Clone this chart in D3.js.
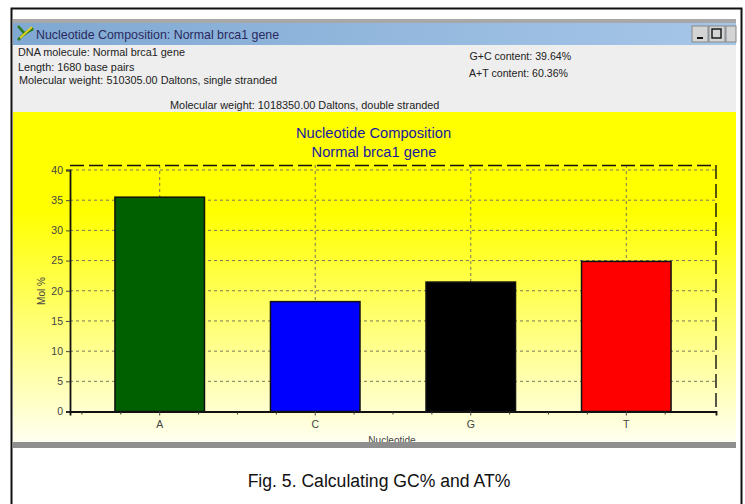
<!DOCTYPE html>
<html><head><meta charset="utf-8">
<script src="https://cdn.jsdelivr.net/npm/d3@7/dist/d3.min.js"></script>
<style>html,body{margin:0;padding:0;background:#fff}svg{display:block}</style>
</head><body><svg id="c" width="745" height="504"></svg>
<script>
const categories = ["A","C","G","T"];
const molPercent = [35.5, 18.2, 21.44, 24.86];
const barColors = ["#006000","#0000ff","#000000","#ff0000"];
const yTicks = [0,5,10,15,20,25,30,35,40];
const chartTitle = ["Nucleotide Composition","Normal brca1 gene"];
const windowTitle = "Nucleotide Composition: Normal brca1 gene";
const infoLeft = ["DNA molecule: Normal brca1 gene","Length: 1680 base pairs","Molecular weight: 510305.00 Daltons, single stranded"];
const infoRight = ["G+C content: 39.64%","A+T content: 60.36%"];
const infoBottom = "Molecular weight: 1018350.00 Daltons, double stranded";
const caption = "Fig. 5. Calculating GC% and AT%";

const svg = d3.select("#c");
const sans = "'Liberation Sans',Arial,sans-serif";
const defs = svg.append("defs");
const g1 = defs.append("linearGradient").attr("id","bg").attr("x1",0).attr("x2",0).attr("y1",0).attr("y2",1);
g1.append("stop").attr("offset",0).attr("stop-color","#ffff00");
g1.append("stop").attr("offset",0.3).attr("stop-color","#ffff00");
g1.append("stop").attr("offset",1).attr("stop-color","#fffff0");
const g2 = defs.append("linearGradient").attr("id","tb");
g2.append("stop").attr("offset",0).attr("stop-color","#7fa8d2");
g2.append("stop").attr("offset",1).attr("stop-color","#a6c6e8");

// frame and window
svg.append("rect").attr("x",11.5).attr("y",8.5).attr("width",730).attr("height",500).attr("fill","#fff").attr("stroke","#111").attr("stroke-width",2);
svg.append("rect").attr("x",13).attr("y",19).attr("width",723).attr("height",4).attr("fill","#a8a8a8");
svg.append("rect").attr("x",13).attr("y",23).attr("width",723).attr("height",22).attr("fill","url(#tb)");
svg.append("rect").attr("x",13).attr("y",45).attr("width",723).attr("height",67).attr("fill","#eeeeee");
svg.append("rect").attr("x",13).attr("y",112).attr("width",723).attr("height",330).attr("fill","url(#bg)");

// icon
svg.append("path").attr("d","M18 26L25 34L33 28M18 40L25 33L33 29").attr("fill","none").attr("stroke","#2a7a20").attr("stroke-width",2.6);
svg.append("path").attr("d","M20 38L32 27").attr("stroke","#dcd020").attr("stroke-width",2);

svg.append("text").attr("x",36).attr("y",39).attr("font-family",sans).attr("font-size",12.4).attr("fill","#2a2a60").text(windowTitle);

// window buttons
[[692,"_"],[709,"box"],[726,""]].forEach(([bx0,k])=>{
  svg.append("rect").attr("x",bx0).attr("y",26).attr("width",k?16:10).attr("height",16).attr("fill","#d4d4d4").attr("stroke","#888");
  if(k==="_") svg.append("rect").attr("x",bx0+5).attr("y",37).attr("width",6).attr("height",2).attr("fill","#111");
  else if(k) svg.append("rect").attr("x",bx0+3).attr("y",29).attr("width",9).attr("height",9).attr("fill","none").attr("stroke","#111").attr("stroke-width",1.4);
});

const info = (t,px,py,fs)=>svg.append("text").attr("x",px).attr("y",py).attr("font-family",sans).attr("font-size",fs).attr("fill","#222").text(t);
[[18,56],[18,71],[19,84]].forEach(([px,py],i)=>info(infoLeft[i],px,py,10.85));
[[469.5,60],[469,77]].forEach(([px,py],i)=>info(infoRight[i],px,py,10.6));
info(infoBottom,170,109,10.9);

// chart
const plotL=70,plotR=716,plotT=165,plotB=411.5;
const y=d3.scaleLinear().domain([0,40]).range([plotB,170]);
const x=d3.scaleBand().domain(categories).range([plotL,plotR]).paddingInner(0.4244).paddingOuter(0.289);

chartTitle.forEach((t,i)=>svg.append("text").attr("x",i?374:373.5).attr("y",i?156.5:138).attr("text-anchor","middle").attr("font-family",sans).attr("font-size",14.7).attr("fill","#1a1aa0").text(t));

const grid=svg.append("g").attr("stroke","#77775a").attr("stroke-width",1).attr("stroke-dasharray","3 3").attr("fill","none");
yTicks.filter(d=>d>0).forEach(d=>grid.append("line").attr("x1",plotL).attr("x2",plotR).attr("y1",y(d)).attr("y2",y(d)));
categories.forEach(c=>{const cx=x(c)+x.bandwidth()/2;grid.append("line").attr("x1",cx).attr("x2",cx).attr("y1",plotT).attr("y2",plotB);});

svg.append("line").attr("x1",plotL).attr("x2",plotR).attr("y1",plotT+.5).attr("y2",plotT+.5).attr("stroke","#111").attr("stroke-width",1.4).attr("stroke-dasharray","14 5");
svg.append("line").attr("x1",plotR).attr("x2",plotR).attr("y1",plotT).attr("y2",plotB).attr("stroke","#111").attr("stroke-width",1.4).attr("stroke-dasharray","14 5");

svg.selectAll("rect.bar").data(categories).join("rect").attr("class","bar")
 .attr("x",d=>x(d)).attr("width",x.bandwidth())
 .attr("y",(d,i)=>y(molPercent[i])).attr("height",(d,i)=>plotB-y(molPercent[i]))
 .attr("fill",(d,i)=>barColors[i]).attr("stroke","#111").attr("stroke-width",1.5);

const ax=svg.append("g").attr("transform",`translate(${plotL},0)`).call(d3.axisLeft(y).tickValues(yTicks).tickSize(4).tickFormat(d3.format("d")));
const bx=svg.append("g").attr("transform",`translate(0,${plotB})`).call(d3.axisBottom(x).tickSize(4).tickPadding(5));
[ax,bx].forEach(a=>{a.selectAll("text").attr("font-family",sans).attr("font-size",10.5).attr("fill","#444");a.select(".domain").attr("stroke","#111").attr("stroke-width",1.8);a.selectAll(".tick line").attr("stroke","#444");});
// minor ticks on the category axis, four to each category step
const minor=svg.append("g").attr("stroke","#333");
categories.forEach(c=>{const cx=x(c)+x.bandwidth()/2;[-2,-1,1].forEach(k=>{const mx=cx+k*x.step()/4;minor.append("line").attr("x1",mx).attr("x2",mx).attr("y1",plotB).attr("y2",plotB+3);});});
svg.append("text").attr("transform","translate(45,291) rotate(-90)").attr("text-anchor","middle").attr("font-family",sans).attr("font-size",10).attr("fill","#444").text("Mol %");
svg.append("text").attr("x",392).attr("y",444).attr("text-anchor","middle").attr("font-family",sans).attr("font-size",10).attr("fill","#444").text("Nucleotide");
svg.append("rect").attr("x",13).attr("y",442).attr("width",723).attr("height",6).attr("fill","#8e8e8e");

svg.append("text").attr("x",379).attr("y",487).attr("text-anchor","middle").attr("font-family",sans).attr("font-size",17.6).attr("fill","#111").text(caption);
</script></body></html>
